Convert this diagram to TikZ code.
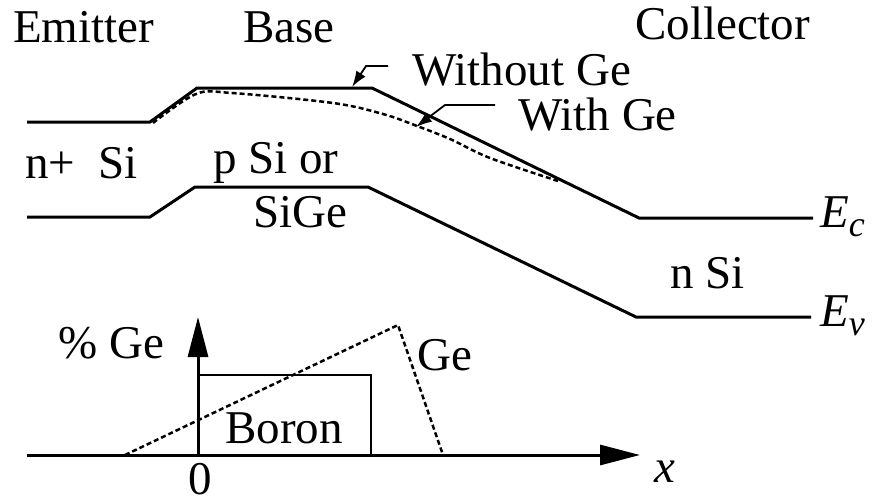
\documentclass[tikz,border=0pt]{standalone}
\usepackage{fontspec}
\setmainfont{Liberation Serif}
\usetikzlibrary{arrows.meta}

\newcommand{\bandlevel}[2]{\textit{#1}\raisebox{-9pt}{\fontsize{36}{40}\selectfont\textit{#2}}}

\begin{document}
\begin{tikzpicture}[
  x=1pt, y=-1pt,
  txt/.style={anchor=base west, inner sep=0pt, font=\fontsize{47}{56}\selectfont},
  band/.style={line width=3pt},
  profile/.style={line width=2.7pt},
  withge/.style={line width=2.5pt, dash pattern=on 5pt off 3pt},
  leader/.style={line width=1.8pt, -{Latex[length=16pt,width=11pt]}},
  axis/.style={line width=3pt, -{Triangle[length=40pt,width=20pt]}}
]
  \useasboundingbox (0,0) rectangle (872,503);

  % region names
  \node[txt] (emitter) at (13,43) {Emitter};
  \node[txt] (base) at (243,43) {Base};
  \node[txt] (collector) at (635,40) {Collector};

  % conduction band
  \draw[band] (27,122) coordinate (ec1) -- (150,122) coordinate (ec2)
    -- (197,88) coordinate (ec3) -- (372,88) coordinate (ec4)
    -- (639,218) coordinate (ec5) -- (813,218) coordinate (ec6);
  % valence band
  \draw[band] (27,217) coordinate (ev1) -- (150,217) coordinate (ev2)
    -- (195,187) coordinate (ev3) -- (368,187) coordinate (ev4)
    -- (636,317) coordinate (ev5) -- (811,317) coordinate (ev6);
  % graded base
  \draw[withge] plot[smooth, tension=0.55] coordinates
    {(153,123) (196,94) (232,93) (333,103) (383,114) (417,126) (450,139) (490,158) (558,181)};

  \node[txt] (withoutge) at (412,85) {Without Ge};
  \node[txt] (withgelbl) at (518,130) {With Ge};
  \coordinate (wo0) at (388,66);
  \coordinate (wo1) at (366,66);
  \coordinate (wo2) at (352,87);
  \draw[leader] (wo0) -- (wo1) -- (wo2);
  \coordinate (wi0) at (495,105);
  \coordinate (wi1) at (445,105);
  \coordinate (wi2) at (416,127);
  \draw[leader] (wi0) -- (wi1) -- (wi2);

  \node[txt] (emsi) at (25,178) {n+~~Si};
  \node[txt] (psi) at (213,173) {p Si or};
  \node[txt] (sige) at (253,227) {SiGe};
  \node[txt] (colsi) at (670,288) {n Si};
  \node[txt] (eclbl) at (820,227) {\bandlevel{E}{c}};
  \node[txt] (evlbl) at (820,326) {\bandlevel{E}{v}};

  % doping profile
  \coordinate (xstart) at (27,455);
  \coordinate (xend) at (640,455);
  \coordinate (origin) at (198,455);
  \coordinate (ytop) at (198,317);
  \draw[axis] (xstart) -- (xend);
  \draw[axis] (origin) -- (ytop);
  \draw[profile] (198,375) -- (371,375) -- (371,455);
  \draw[withge] (125,455) -- (398,325) -- (443,455);

  \node[txt] (pctge) at (58,358) {\% Ge};
  \node[txt] (gelbl) at (417,370) {Ge};
  \node[txt] (boron) at (225,443) {Boron};
  \node[txt] (zero) at (188,494) {0};
  \node[txt] (xlbl) at (654,482) {\textit{x}};
\end{tikzpicture}
\end{document}
